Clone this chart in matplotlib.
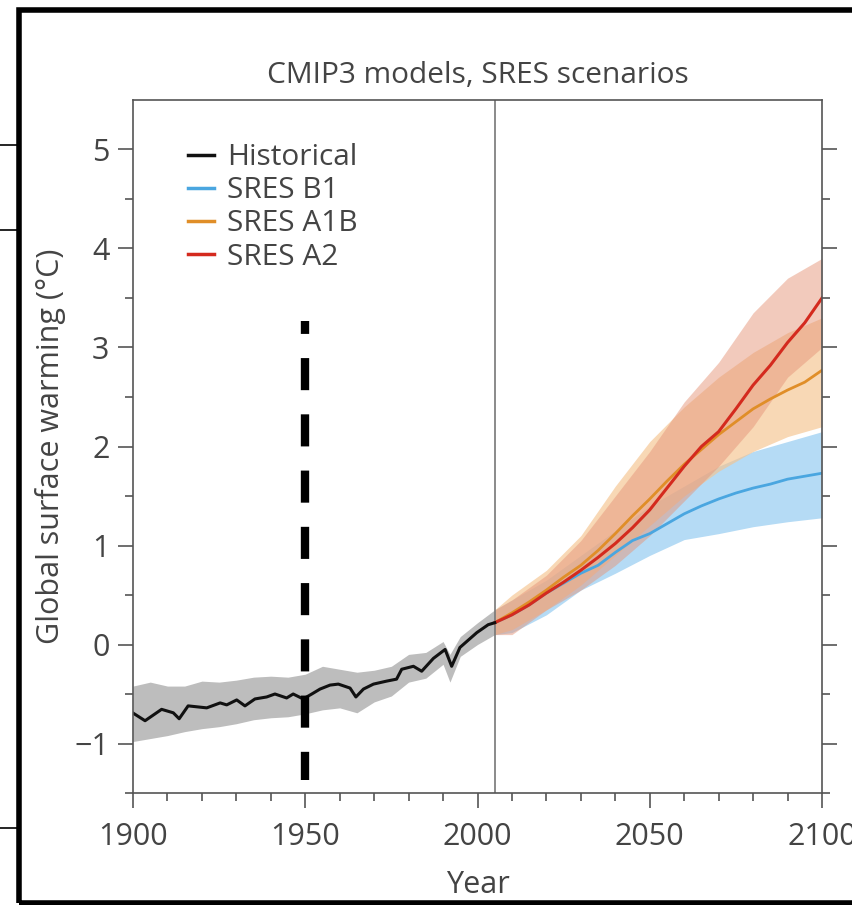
import matplotlib
matplotlib.use("Agg")
import matplotlib.pyplot as plt
from matplotlib.lines import Line2D
from matplotlib.patches import Rectangle

plt.rcParams['font.family'] = ['Open Sans', 'DejaVu Sans']

# historical multi-model mean
hist_years = [1899, 1903.5, 1908.3, 1911.7, 1913.4, 1916, 1921.4, 1925.3, 1927.2, 1930.1,
              1932.5, 1935.4, 1938.8, 1941.2, 1944.6, 1946.5, 1949.4, 1951.9, 1954.3, 1957.2,
              1959.6, 1963, 1964.7, 1966.9, 1969.8, 1973.6, 1976.5, 1978, 1981.4, 1983.8,
              1987.2, 1990.6, 1992.5, 1994.9, 1999.8, 2003.1, 2005]
hist_mean = [-0.67, -0.77, -0.655, -0.69, -0.75, -0.62, -0.64, -0.59, -0.61, -0.56,
             -0.62, -0.55, -0.53, -0.50, -0.54, -0.50, -0.55, -0.50, -0.45, -0.41,
             -0.40, -0.44, -0.53, -0.45, -0.40, -0.37, -0.35, -0.25, -0.22, -0.27,
             -0.14, -0.05, -0.22, -0.03, 0.12, 0.20, 0.22]

band_years_hist = [1900, 1905, 1910, 1915, 1920, 1925, 1930, 1935, 1940, 1945, 1950, 1955,
                   1960, 1965, 1970, 1975, 1980, 1985, 1990, 1992, 1995, 2000, 2005]
hist_lo = [-0.98, -0.95, -0.92, -0.88, -0.85, -0.83, -0.80, -0.76, -0.74, -0.73, -0.70, -0.66,
           -0.64, -0.69, -0.58, -0.52, -0.38, -0.34, -0.20, -0.38, -0.12, 0.00, 0.10]
hist_hi = [-0.42, -0.38, -0.42, -0.42, -0.37, -0.38, -0.36, -0.33, -0.32, -0.33, -0.30, -0.22,
           -0.25, -0.28, -0.26, -0.22, -0.10, -0.08, 0.03, -0.10, 0.08, 0.22, 0.35]

# scenarios
proj_years = [2005, 2010, 2015, 2020, 2025, 2030, 2035, 2040, 2045, 2050,
              2055, 2060, 2065, 2070, 2075, 2080, 2085, 2090, 2095, 2100]
b1_mean = [0.22, 0.30, 0.40, 0.52, 0.62, 0.72, 0.80, 0.93, 1.05, 1.12,
           1.22, 1.32, 1.40, 1.47, 1.53, 1.58, 1.62, 1.67, 1.70, 1.73]
a1b_mean = [0.22, 0.32, 0.43, 0.55, 0.68, 0.80, 0.95, 1.12, 1.30, 1.47,
            1.65, 1.82, 1.97, 2.12, 2.25, 2.38, 2.48, 2.57, 2.65, 2.77]
a2_mean = [0.22, 0.30, 0.40, 0.52, 0.63, 0.75, 0.88, 1.02, 1.18, 1.36,
           1.58, 1.80, 2.00, 2.15, 2.38, 2.62, 2.82, 3.05, 3.25, 3.50]

band_years = [2005, 2010, 2020, 2030, 2040, 2050, 2060, 2070, 2080, 2090, 2100]
b1_lo = [0.10, 0.12, 0.30, 0.55, 0.72, 0.90, 1.06, 1.12, 1.19, 1.24, 1.28]
b1_hi = [0.35, 0.45, 0.65, 0.90, 1.15, 1.40, 1.60, 1.80, 1.95, 2.05, 2.15]
a1b_lo = [0.10, 0.15, 0.35, 0.60, 0.90, 1.20, 1.50, 1.75, 1.95, 2.10, 2.20]
a1b_hi = [0.35, 0.50, 0.75, 1.10, 1.60, 2.05, 2.40, 2.70, 2.95, 3.15, 3.30]
a2_lo = [0.10, 0.10, 0.35, 0.55, 0.80, 1.10, 1.45, 1.80, 2.20, 2.70, 3.00]
a2_hi = [0.35, 0.45, 0.70, 1.05, 1.50, 1.95, 2.45, 2.85, 3.35, 3.70, 3.90]

fig = plt.figure(figsize=(8.53, 9.05), dpi=100)
ax = fig.add_axes([133 / 853, 112 / 905, 689 / 853, 693 / 905])

ax.fill_between(band_years_hist, hist_lo, hist_hi, color='#bdbdbd', lw=0)
ax.fill_between(band_years, b1_lo, b1_hi, color='#b5dbf5', lw=0)
ax.fill_between(band_years, a1b_lo, a1b_hi, color='#f5c38e', alpha=0.65, lw=0)
ax.fill_between(band_years, a2_lo, a2_hi, color='#e6967a', alpha=0.5, lw=0)

ax.axvline(2005, color='#777777', lw=1.2)

ax.plot(proj_years, b1_mean, color='#4aa6e0', lw=2)
ax.plot(proj_years, a1b_mean, color='#e08e28', lw=2)
ax.plot(proj_years, a2_mean, color='#d42a1e', lw=2.2)
ax.plot(hist_years, hist_mean, color='#111111', lw=2.2)

# dashed marker at 1950 (short dash at the top, like the original)
ax.plot([1950, 1950], [3.27, -1.37], color='black', lw=6,
        linestyle=(2.3, (3.85, 2.9)), dash_capstyle='butt')

ax.set_xlim(1900, 2100)
ax.set_ylim(-1.5, 5.5)
ax.set_xticks([1900, 1950, 2000, 2050, 2100])
ax.set_xticks(range(1900, 2101, 10), minor=True)
ax.set_yticks([-1, 0, 1, 2, 3, 4, 5])
ax.set_yticks([-1.5, -0.5, 0.5, 1.5, 2.5, 3.5, 4.5], minor=True)
ax.tick_params(which='both', direction='out', color='#555555', width=1.2,
               left=True, right=True, bottom=True, top=False,
               labelsize=22, labelcolor='#444444')
ax.tick_params(which='major', length=11, pad=6)
ax.tick_params(axis='x', which='major', pad=10)
ax.tick_params(which='minor', length=6)
for s in ax.spines.values():
    s.set_color('#555555')
    s.set_linewidth(1.2)

ax.set_xlabel('Year', fontsize=22, color='#444444', labelpad=13)
ax.set_ylabel('Global surface warming (°C)', fontsize=22, color='#444444', labelpad=6)
ax.set_title('CMIP3 models, SRES scenarios', fontsize=21.5, color='#444444', pad=12)

handles = [Line2D([], [], color='#111111', lw=2.5),
           Line2D([], [], color='#4aa6e0', lw=2.5),
           Line2D([], [], color='#e08e28', lw=2.5),
           Line2D([], [], color='#d42a1e', lw=2.5)]
ax.legend(handles, ['Historical', 'SRES B1', 'SRES A1B', 'SRES A2'],
          loc='upper left', bbox_to_anchor=(0.063, 0.955), frameon=False,
          fontsize=21.5, labelcolor='#444444', handlelength=0.85,
          handletextpad=0.45, labelspacing=0.14, borderaxespad=0)

# black screenshot frame
fig.add_artist(Rectangle((19 / 853, 2 / 905), 0.99, 893 / 905, transform=fig.transFigure,
                         fill=False, edgecolor='black', lw=4))
for yy in [145, 230, 828]:
    fig.add_artist(Line2D([0, 17 / 853], [1 - yy / 905, 1 - yy / 905],
                          transform=fig.transFigure, color='black', lw=1.2))

fig.savefig('out.png', dpi=100)
